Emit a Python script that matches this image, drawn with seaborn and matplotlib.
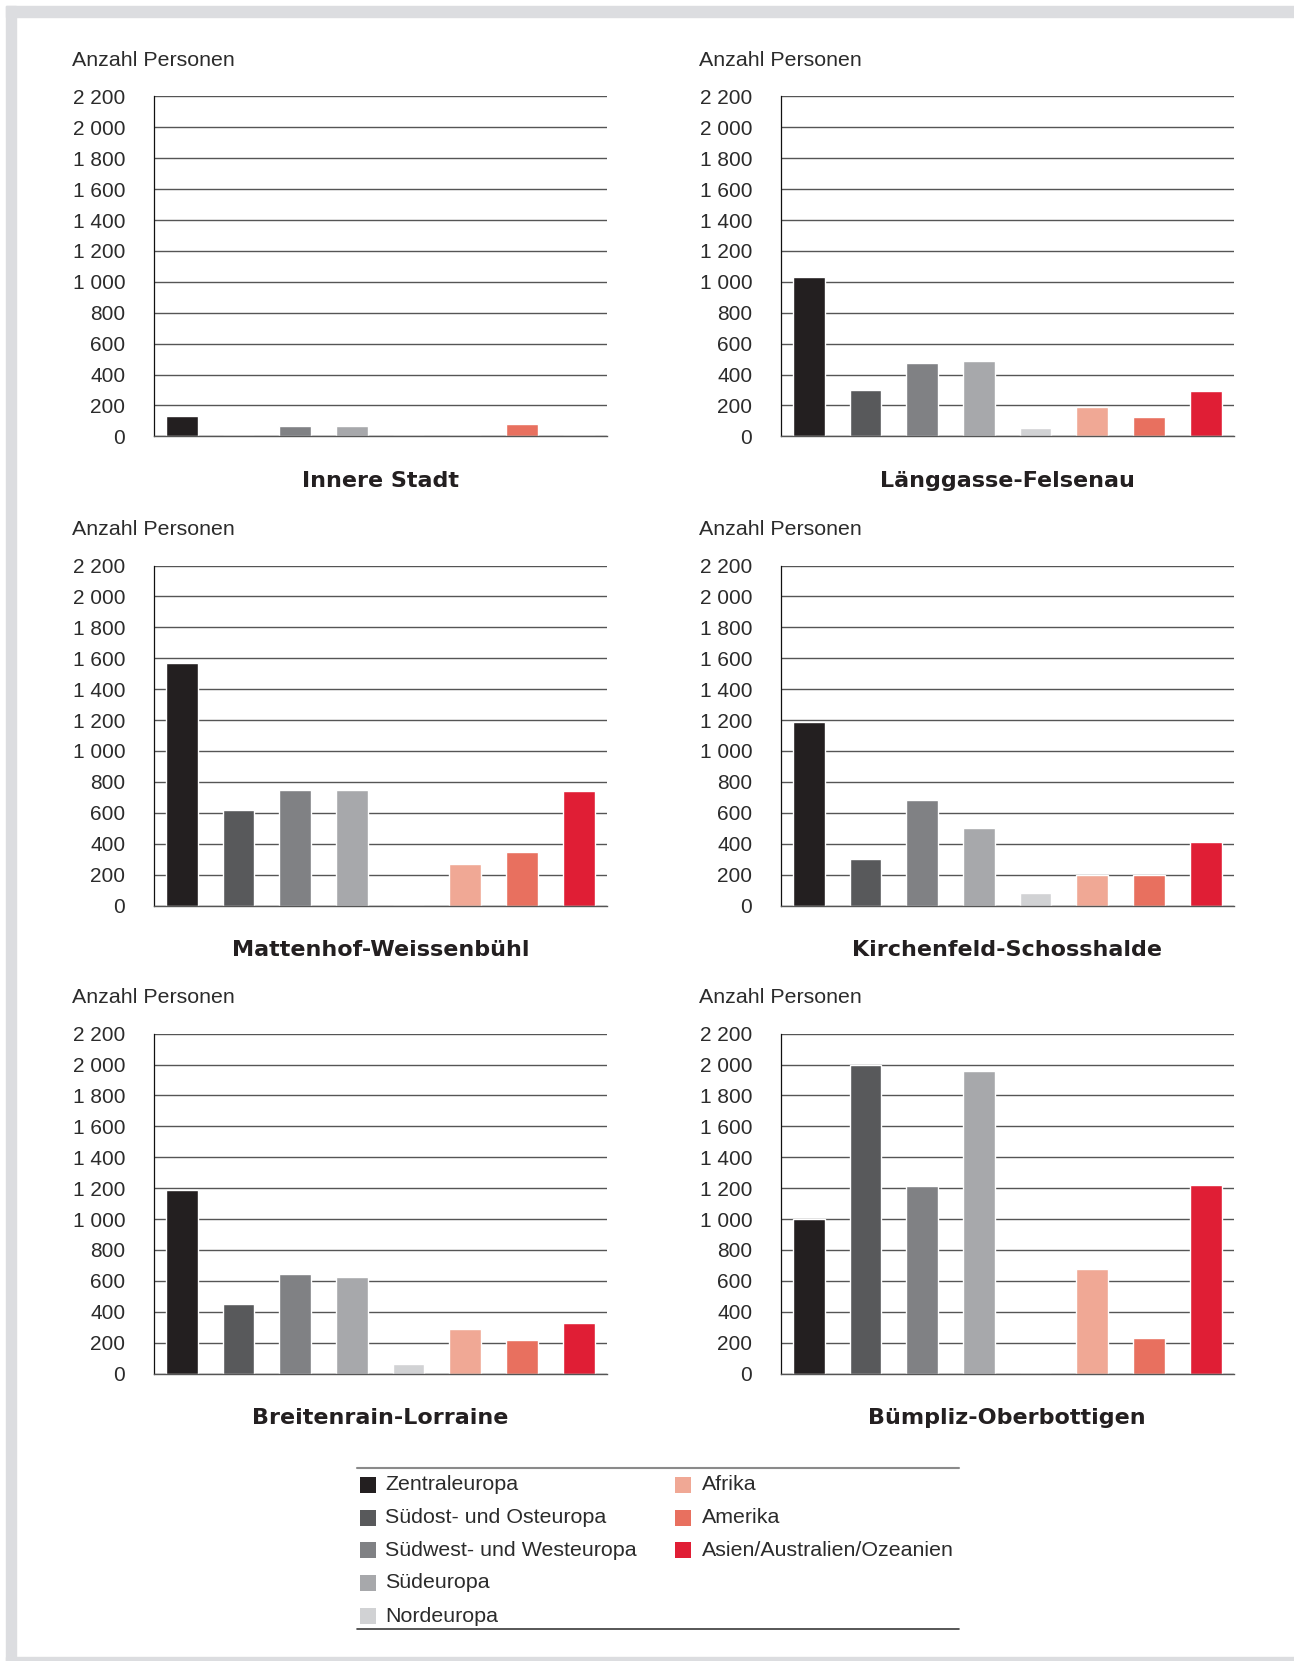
import matplotlib

matplotlib.use("Agg")

import matplotlib.pyplot as plt
import numpy as np
import pandas as pd
import seaborn as sns
from matplotlib.patches import Rectangle

sns.set_style("white")
plt.rcParams["font.family"] = ["Liberation Sans", "DejaVu Sans"]

regions = [
    "Zentraleuropa",
    "Südost- und Osteuropa",
    "Südwest- und Westeuropa",
    "Südeuropa",
    "Nordeuropa",
    "Afrika",
    "Amerika",
    "Asien/Australien/Ozeanien",
]
region_colors = ["#231f20", "#58595b", "#808184", "#a7a8ab", "#d1d2d4", "#f0a895", "#e8705f", "#e01e35"]

districts = [
    "Innere Stadt",
    "Länggasse-Felsenau",
    "Mattenhof-Weissenbühl",
    "Kirchenfeld-Schosshalde",
    "Breitenrain-Lorraine",
    "Bümpliz-Oberbottigen",
]
innere_stadt = [135, 0, 65, 65, 0, 0, 78, 0]
laenggasse = [1034, 297, 472, 491, 52, 187, 123, 291]
mattenhof = [1571, 621, 750, 750, 0, 271, 349, 743]
kirchenfeld = [1189, 304, 685, 504, 84, 200, 200, 414]
breitenrain = [1187, 450, 644, 625, 62, 289, 218, 328]
buempliz = [998, 2000, 1213, 1957, 0, 677, 231, 1220]

y_ticks = [0, 200, 400, 600, 800, 1000, 1200, 1400, 1600, 1800, 2000, 2200]
y_tick_labels = ["0", "200", "400", "600", "800", "1 000", "1 200", "1 400", "1 600", "1 800", "2 000", "2 200"]
y_label = "Anzahl Personen"

values = [innere_stadt, laenggasse, mattenhof, kirchenfeld, breitenrain, buempliz]
df = pd.DataFrame(
    [(d, r, v) for d, vals in zip(districts, values) for r, v in zip(regions, vals)],
    columns=["district", "region", "count"],
)

W, H = 1294, 1661
TEXT = "#2b2b2b"
GRID = "#555555"
FS = 15.4
FS_TICK = 15

fig = plt.figure(figsize=(W / 100, H / 100), dpi=100)

# light grey frame (left, top, bottom)
frame = "#dcdde0"
fig.patches.append(Rectangle((6 / W, 0), 10 / W, 1 - 6 / H, transform=fig.transFigure, color=frame, zorder=0))
fig.patches.append(Rectangle((6 / W, 1 - 17 / H), 1 - 6 / W, 11 / H, transform=fig.transFigure, color=frame, zorder=0))
fig.patches.append(Rectangle((6 / W, 0), 1 - 6 / W, 4 / H, transform=fig.transFigure, color=frame, zorder=0))

col_left = [153.5, 780.5]
row_top = [96.4, 565.5, 1033.6]
aw, ah = 453.5, 340

for i, name in enumerate(districts):
    left = col_left[i % 2]
    top = row_top[i // 2]
    ax = fig.add_axes([left / W, 1 - (top + ah) / H, aw / W, ah / H])
    sub = df[df["district"] == name]
    sns.barplot(
        data=sub, x="region", y="count", hue="region", order=regions, hue_order=regions,
        palette=region_colors, width=0.56, saturation=1, legend=False, ax=ax,
    )
    ax.set_xlim(-0.5, 7.5)
    ax.set_ylim(0, 2200)
    ax.set_yticks(y_ticks, y_tick_labels)
    ax.set_xticks(np.arange(-0.5, 8, 1))
    ax.set_xticklabels([])
    ax.set_xlabel("")
    ax.set_ylabel("")
    ax.set_axisbelow(True)
    ax.grid(axis="y", color=GRID, lw=1.0)
    ax.grid(axis="x", visible=False)
    for s in ["top", "right"]:
        ax.spines[s].set_visible(False)
    ax.spines["left"].set_color("#111111")
    ax.spines["left"].set_linewidth(0.9)
    ax.spines["bottom"].set_color(GRID)
    ax.spines["bottom"].set_linewidth(1.0)
    ax.tick_params(axis="y", direction="out", length=5.4, width=1.0, color=GRID, pad=15,
                   labelsize=FS_TICK, labelcolor=TEXT)
    ax.tick_params(axis="x", direction="out", length=5.8, width=0.9, color="#333333")

    fig.text((left - 81.5) / W, 1 - (top - 36.2) / H, y_label, ha="left", va="center",
             fontsize=FS, color=TEXT)
    fig.text((left + aw / 2) / W, 1 - (top + ah + 44.5) / H, name, ha="center", va="center",
             fontsize=16, fontweight="bold", color="#231f20", family=["DejaVu Sans"])

# legend block
lx0, ly0, lw_, lh = 357, 1468, 602, 161
lax = fig.add_axes([lx0 / W, 1 - (ly0 + lh) / H, lw_ / W, lh / H])
lax.set_xlim(0, lw_)
lax.set_ylim(lh, 0)
lax.axis("off")
lax.plot([0, lw_], [0, 0], color="#8a8a8a", lw=1.5, clip_on=False)
lax.plot([0, lw_], [lh, lh], color="#3a3a3a", lw=1.2, clip_on=False)
row_y = [17, 49.5, 82, 115, 148]
for k, (label, color) in enumerate(zip(regions, region_colors)):
    col = 0 if k < 5 else 1
    r = k if k < 5 else k - 5
    sx = 3 if col == 0 else 317.5
    tx = 28 if col == 0 else 345
    lax.add_patch(Rectangle((sx, row_y[r] - 8), 16, 16, color=color, lw=0))
    lax.text(tx, row_y[r], label, ha="left", va="center", fontsize=FS, color=TEXT)

fig.savefig("out.png", dpi=100)
